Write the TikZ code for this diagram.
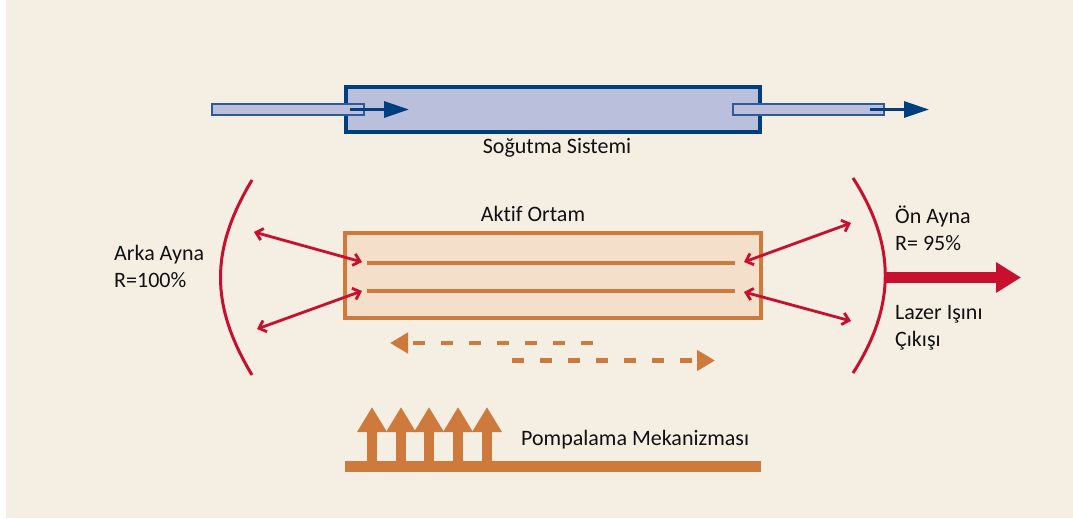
\documentclass[tikz,border=0pt]{standalone}
\usepackage{fontspec}
\setmainfont[Ligatures=NoCommon]{Carlito}
\usetikzlibrary{arrows.meta}
\definecolor{bg}{HTML}{F5EEE3}
\definecolor{navy}{HTML}{003F7F}
\definecolor{tubeline}{HTML}{2F5A9A}
\definecolor{lblue}{HTML}{BAC0DC}
\definecolor{orng}{HTML}{CE7A3C}
\definecolor{lorng}{HTML}{F3DFCA}
\definecolor{crim}{HTML}{C8102E}
\definecolor{txt}{HTML}{111111}
\tikzset{
  lbl/.style={inner sep=0pt, text=txt, font=\fontsize{22}{27}\selectfont, align=left},
  tube/.style={draw=tubeline, fill=lblue, line width=1.3pt},
  flowarrow/.style={draw=navy, line width=3pt, -{Triangle[length=25pt,width=16pt]}},
  ray/.style={draw=crim, line width=2.8pt, {Straight Barb[length=6.5pt,width=12pt]}-{Straight Barb[length=6.5pt,width=12pt]}},
  mirror/.style={draw=crim, line width=3pt},
  dasharrow/.style={draw=orng, line width=4.5pt, dash pattern=on 12pt off 16pt, -{Triangle[length=18pt,width=20pt]}},
  pumparrow/.style={draw=orng, line width=10pt, -{Triangle[length=25pt,width=28pt]}},
  innerline/.style={draw=orng, line width=3.8pt}
}
\begin{document}
\begin{tikzpicture}[x=1pt,y=-1pt]
\useasboundingbox (0,0) rectangle (1073,519);
\fill[white] (0,0) rectangle (1073,519);
\fill[bg] (6,0) rectangle (1073,518);

% cooling system
\node[draw=navy, fill=lblue, line width=4pt, minimum width=414pt, minimum height=45pt, inner sep=0pt] (cool) at (553,109.5) {};
\node[tube, minimum width=152pt, minimum height=11pt, inner sep=0pt] (tubeL) at (288,109.5) {};
\node[tube, minimum width=151pt, minimum height=11pt, inner sep=0pt] (tubeR) at (808.5,109.5) {};
\coordinate (inA) at (350,109.5);
\coordinate (inB) at (409,109.5);
\coordinate (outA) at (870,109.5);
\coordinate (outB) at (929,109.5);
\draw[flowarrow] (inA) -- (inB);
\draw[flowarrow] (outA) -- (outB);
\node[lbl] (coolTxt) at (557,148) {Soğutma Sistemi};

% active medium
\node[lbl] (aktif) at (533,214) {Aktif Ortam};
\node[draw=orng, fill=lorng, line width=3.5pt, minimum width=416pt, minimum height=85pt, inner sep=0pt] (medium) at (553,275.5) {};
\coordinate (l1a) at (367,263);
\coordinate (l1b) at (735,263);
\coordinate (l2a) at (367,291);
\coordinate (l2b) at (735,291);
\draw[innerline] (l1a) -- (l1b);
\draw[innerline] (l2a) -- (l2b);

% mirrors
\coordinate (mLt) at (252,180);
\coordinate (mLb) at (252,375);
\coordinate (mRt) at (853,178);
\coordinate (mRb) at (853,373);
\draw[mirror] (mLt) .. controls (210,250) and (210,305) .. (mLb);
\draw[mirror] (mRt) .. controls (896,245) and (896,306) .. (mRb);

% rays
\coordinate (rL1) at (254,232);
\coordinate (rL2) at (257,329);
\coordinate (rR1) at (851,223);
\coordinate (rR2) at (851,321);
\coordinate (mL1) at (362,262);
\coordinate (mL2) at (362,291);
\coordinate (mR1) at (744,262);
\coordinate (mR2) at (744,292);
\draw[ray] (rL1) -- (mL1);
\draw[ray] (rL2) -- (mL2);
\draw[ray] (rR1) -- (mR1);
\draw[ray] (rR2) -- (mR2);

% output beam
\coordinate (beamA) at (885,277.5);
\coordinate (beamB) at (1021,277.5);
\draw[draw=crim, line width=11pt, -{Triangle[length=25pt,width=29pt]}] (beamA) -- (beamB);

% labels
\node[lbl, anchor=west] (arka) at (114,266) {Arka Ayna\\R=100\%};
\node[lbl, anchor=west] (on) at (895,228.5) {Ön Ayna\\R= 95\%};
\node[lbl, anchor=west] (lazer) at (895,327.5) {Lazer Işını\\Çıkışı};

% dashed arrows
\coordinate (d1a) at (593,343);
\coordinate (d1b) at (390,343);
\coordinate (d2a) at (512,360.5);
\coordinate (d2b) at (715,360.5);
\draw[dasharrow] (d1a) -- (d1b);
\draw[dasharrow] (d2a) -- (d2b);

% pumping
\coordinate (base1) at (345,466);
\coordinate (base2) at (761,466);
\draw[draw=orng, line width=11pt] (base1) -- (base2);
\foreach \i/\x in {1/372,2/401,3/429,4/458,5/487}{
  \coordinate (p\i a) at (\x,462);
  \coordinate (p\i b) at (\x,407);
  \draw[pumparrow] (p\i a) -- (p\i b);
}
\node[lbl, anchor=west] (pump) at (521,440) {Pompalama Mekanizması};
\end{tikzpicture}
\end{document}
